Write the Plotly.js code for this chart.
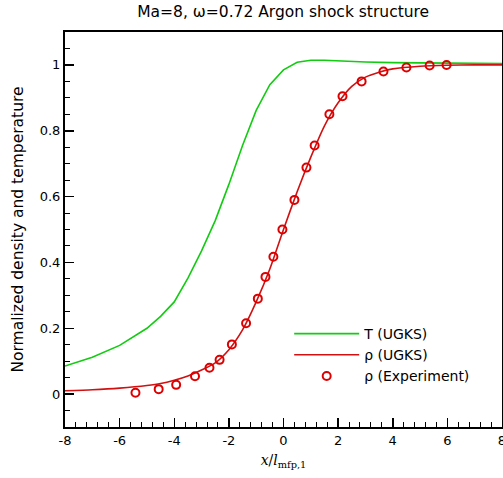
<!DOCTYPE html>
<html>
<head>
<meta charset="utf-8">
<script src="https://cdn.plot.ly/plotly-3.0.1.min.js"></script>
<style>html,body{margin:0;padding:0;background:#fff;}#chart{width:503px;height:478px;}</style>
</head>
<body>
<div id="chart"></div>
<script>
// Temperature, UGKS
const tX = [-8, -7, -6, -5, -4.5, -4, -3.5, -3, -2.5, -2, -1.5, -1, -0.5, 0, 0.5, 1, 1.5, 2, 3, 4, 5, 6, 8];
const tY = [0.085, 0.112, 0.148, 0.2, 0.236, 0.28, 0.352, 0.435, 0.527, 0.637, 0.755, 0.862, 0.94, 0.985, 1.008, 1.014, 1.014, 1.012, 1.009, 1.007, 1.006, 1.005, 1.004];
// Density, UGKS
const rX = [-8, -7, -6, -5, -4.5, -4, -3.5, -3, -2.5, -2, -1.5, -1, -0.5, 0, 0.5, 1, 1.5, 2, 2.5, 3, 3.5, 4, 5, 6, 7, 8];
const rY = [0.01, 0.013, 0.018, 0.026, 0.032, 0.042, 0.055, 0.073, 0.095, 0.135, 0.195, 0.28, 0.38, 0.5, 0.615, 0.72, 0.815, 0.885, 0.935, 0.963, 0.978, 0.988, 0.996, 0.999, 1.0, 1.0];
// Density, experiment
const eX = [-5.42, -4.57, -3.93, -3.24, -2.71, -2.34, -1.89, -1.37, -0.94, -0.66, -0.37, -0.04, 0.4, 0.84, 1.14, 1.68, 2.16, 2.86, 3.66, 4.5, 5.35, 5.97];
const eY = [0.004, 0.015, 0.028, 0.054, 0.08, 0.104, 0.151, 0.215, 0.29, 0.356, 0.417, 0.5, 0.59, 0.688, 0.755, 0.85, 0.905, 0.95, 0.98, 0.992, 0.998, 1.0];

const xTickVals = [-8, -6, -4, -2, 0, 2, 4, 6, 8];
const xTickText = ['-8', '-6', '-4', '-2', '0', '2', '4', '6', '8'];
const yTickVals = [0, 0.2, 0.4, 0.6, 0.8, 1];
const yTickText = ['0', '0.2', '0.4', '0.6', '0.8', '1'];

const names = ['T (UGKS)', 'ρ (UGKS)', 'ρ (Experiment)'];
const font = 'DejaVu Sans, sans-serif';

const traces = [
  {x: tX, y: tY, mode: 'lines', name: names[0], line: {color: '#11cc11', width: 1.6}},
  {x: rX, y: rY, mode: 'lines', name: names[1], line: {color: '#d11111', width: 1.6, shape: 'spline', smoothing: 0.6}},
  {x: eX, y: eY, mode: 'markers', name: names[2],
   marker: {symbol: 'circle-open', size: 8, color: '#dd0000', line: {width: 2, color: '#dd0000'}}}
];

const layout = {
  width: 503, height: 478,
  margin: {l: 65, r: 1, t: 32, b: 51},
  paper_bgcolor: '#fff', plot_bgcolor: '#fff',
  font: {family: font, size: 13, color: '#000'},
  title: {text: 'Ma=8, ω=0.72 Argon shock structure', x: 0.563, xanchor: 'center', y: 0.988, yanchor: 'top', font: {family: font, size: 15.5, color: '#000'}},
  showlegend: true,
  legend: {x: 0.513, y: 0.276, xanchor: 'left', yanchor: 'top', bgcolor: 'rgba(0,0,0,0)', font: {family: font, size: 14}, itemwidth: 65, tracegroupgap: 0},
  xaxis: {
    range: [-8, 8], tickmode: 'array', tickvals: xTickVals, ticktext: xTickText,
    ticks: 'inside', ticklen: 9, tickwidth: 1.5, tickcolor: '#000', ticklabeloverflow: 'allow',
    minor: {tickmode: 'linear', tick0: -8, dtick: 0.4, ticks: 'inside', ticklen: 5, tickwidth: 1, tickcolor: '#000', showgrid: false},
    showline: true, linewidth: 2, linecolor: '#000', mirror: true,
    showgrid: false, zeroline: false,
    tickfont: {family: font, size: 13},
    title: {text: '<i>x</i>/<i>l</i><sub>mfp,1</sub>', font: {family: 'DejaVu Serif, serif', size: 14}, standoff: 9}
  },
  yaxis: {
    range: [-0.1, 1.1], tickmode: 'array', tickvals: yTickVals, ticktext: yTickText,
    ticks: 'inside', ticklen: 9, tickwidth: 1.5, tickcolor: '#000',
    minor: {tickmode: 'linear', tick0: 0, dtick: 0.05, ticks: 'inside', ticklen: 5, tickwidth: 1, tickcolor: '#000', showgrid: false},
    showline: true, linewidth: 2, linecolor: '#000', mirror: true,
    showgrid: false, zeroline: false,
    tickfont: {family: font, size: 13},
    title: {text: 'Normalized density and temperature', font: {family: font, size: 15.5}, standoff: 12}
  }
};

Plotly.newPlot('chart', traces, layout, {displayModeBar: false, staticPlot: true});
</script>
</body>
</html>
